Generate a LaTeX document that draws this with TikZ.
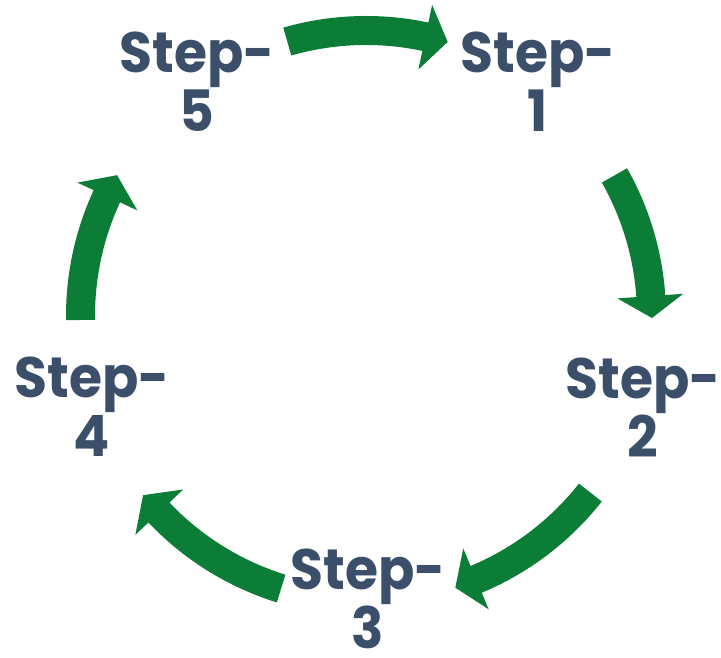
\documentclass[tikz,border=0pt]{standalone}
\usepackage{fontspec}
\setmainfont{Poppins}[BoldFont={* Bold}, BoldFeatures={FakeStretch=0.94}]
\usetikzlibrary{calc}
\definecolor{steptext}{RGB}{59,79,107}
\definecolor{arrowgreen}{RGB}{11,125,55}
\newcommand{\cycarrow}[3]{%
  \fill[arrowgreen] (#1:300pt) arc[start angle=#1, end angle=#2, radius=300pt]
    -- (#2:318pt) -- (#3:286pt) -- (#2:252pt) -- (#2:271pt)
    arc[start angle=#2, end angle=#1, radius=271pt] -- cycle;}
\begin{document}
\begin{tikzpicture}[x=1pt,y=1pt,
  steplabel/.style={text=steptext, font=\fontsize{57}{59}\selectfont\bfseries,
    align=center, inner sep=0pt, anchor=base, text depth=0pt}]
\useasboundingbox (0,0) rectangle (721,658);
\node[steplabel] (s1) at (538,526) {Step-\\1};
\node[steplabel] (s2) at (643,200) {Step-\\2};
\node[steplabel] (s3) at (368,9) {Step-\\3};
\node[steplabel] (s4) at (92,201) {Step-\\4};
\node[steplabel] (s5) at (197,526) {Step-\\5};
\begin{scope}[shift={(366,342)}]
  \cycarrow{106}{78}{73.4}
  \cycarrow{29.5}{4}{-0.4}
  \cycarrow{-38.2}{-67.3}{-71.8}
  \cycarrow{-107.3}{-136.5}{-141.2}
  \cycarrow{180.8}{155.2}{150.5}
\end{scope}
\end{tikzpicture}
\end{document}
